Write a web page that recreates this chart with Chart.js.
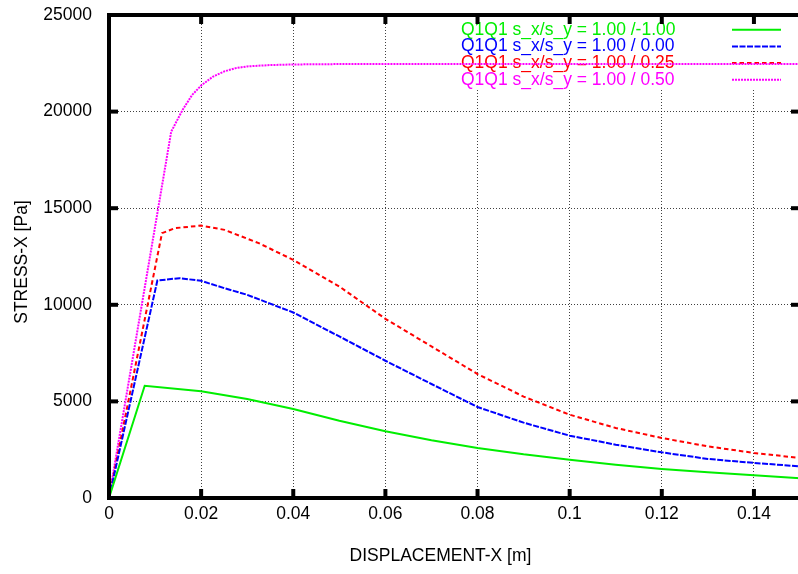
<!DOCTYPE html>
<html>
<head>
<meta charset="utf-8">
<script src="https://cdn.jsdelivr.net/npm/chart.js@4.4.1/dist/chart.umd.min.js"></script>
<style>
html, body { margin: 0; padding: 0; background: #fff; overflow: hidden; }
#wrap { position: relative; width: 804px; height: 574px; }
</style>
</head>
<body>
<div id="wrap"><canvas id="stress-chart"></canvas></div>
<script>
// values
var seriesLabels = [
    'Q1Q1 s_x/s_y = 1.00 /-1.00',
    'Q1Q1 s_x/s_y = 1.00 / 0.00',
    'Q1Q1 s_x/s_y = 1.00 / 0.25',
    'Q1Q1 s_x/s_y = 1.00 / 0.50'
];

var dispGreen = [0, 0.00775, 0.02, 0.03, 0.04, 0.05, 0.06, 0.07, 0.08, 0.09, 0.10, 0.11, 0.12, 0.13, 0.14, 0.15];
var stressGreen = [0, 5810, 5520, 5120, 4610, 4000, 3450, 2990, 2590, 2260, 1985, 1727, 1505, 1329, 1174, 1019];

var dispBlue = [0, 0.0105, 0.0153, 0.02, 0.025, 0.03, 0.04, 0.05, 0.06, 0.07, 0.08, 0.09, 0.10, 0.11, 0.12, 0.13, 0.14, 0.15];
var stressBlue = [0, 11257, 11380, 11240, 10863, 10517, 9602, 8361, 7104, 5900, 4710, 3900, 3226, 2761, 2363, 2022, 1815, 1639];

var dispRed = [0, 0.0115, 0.0143, 0.02, 0.0251, 0.0325, 0.04, 0.05, 0.06, 0.07, 0.08, 0.09, 0.10, 0.11, 0.12, 0.13, 0.14, 0.15];
var stressRed = [0, 13707, 13966, 14100, 13878, 13190, 12327, 10946, 9276, 7845, 6416, 5250, 4312, 3625, 3107, 2673, 2332, 2073];

var dispMagenta = [0, 0.0135, 0.016, 0.018, 0.02, 0.0225, 0.025, 0.0275, 0.03, 0.035, 0.04, 0.05, 0.08, 0.11, 0.15];
var stressMagenta = [0, 18960, 20100, 20850, 21350, 21800, 22080, 22250, 22340, 22410, 22440, 22460, 22460, 22460, 22460];

var xTicks = [0, 0.02, 0.04, 0.06, 0.08, 0.1, 0.12, 0.14];
var yTicks = [0, 5000, 10000, 15000, 20000, 25000];

var xTitle = 'DISPLACEMENT-X [m]';
var yTitle = 'STRESS-X [Pa]';

var seriesColors = ['#00ee00', '#0000ff', '#ff0000', '#ff00ff'];
var seriesDash = [[], [6, 1.5], [4.5, 3], [2, 1]];

var FONT = '17.5px "Liberation Sans", Arial, sans-serif';

function toPoints(xs, ys) {
    return xs.map(function (x, i) { return {x: x, y: ys[i]}; });
}

function line(ctx, x1, y1, x2, y2) {
    ctx.beginPath();
    ctx.moveTo(x1, y1);
    ctx.lineTo(x2, y2);
    ctx.stroke();
}

// gnuplot look: opaque key, thick frame, inward ticks, axis titles
var gnuplotFrame = {
    id: 'gnuplotFrame',
    beforeDatasetsDraw: function (chart) {
        var ctx = chart.ctx;
        ctx.save();
        ctx.fillStyle = '#fff';
        ctx.fillRect(452, 18, 350, 71);
        ctx.font = FONT;
        ctx.textBaseline = 'middle';
        ctx.textAlign = 'left';
        seriesLabels.forEach(function (lab, i) {
            var y = 29.7 + i * 16.7;
            ctx.fillStyle = seriesColors[i];
            ctx.fillText(lab, 461, y);
            ctx.strokeStyle = seriesColors[i];
            ctx.lineWidth = 2;
            ctx.setLineDash(seriesDash[i]);
            line(ctx, 732, y, 781, y);
        });
        ctx.restore();
    },
    afterDraw: function (chart) {
        var ctx = chart.ctx;
        var a = chart.chartArea;
        var xs = chart.scales.x, ys = chart.scales.y;
        ctx.save();
        ctx.strokeStyle = '#000';
        ctx.setLineDash([]);
        ctx.lineWidth = 4;
        ctx.strokeRect(a.left, a.top, a.right - a.left, a.bottom - a.top);

        xTicks.forEach(function (v) {
            if (v <= 0) return;
            var px = xs.getPixelForValue(v);
            line(ctx, px, a.bottom, px, a.bottom - 9);
            line(ctx, px, a.top, px, a.top + 9);
        });
        yTicks.forEach(function (v) {
            if (v <= 0 || v >= ys.max) return;
            var py = ys.getPixelForValue(v);
            line(ctx, a.left, py, a.left + 9, py);
            line(ctx, a.right, py, a.right - 9, py);
        });

        ctx.fillStyle = '#000';
        ctx.font = FONT;
        ctx.textAlign = 'center';
        ctx.textBaseline = 'middle';
        ctx.fillText(xTitle, (a.left + a.right) / 2 - 14, 556);
        ctx.translate(22, 262);
        ctx.rotate(-Math.PI / 2);
        ctx.fillText(yTitle, 0, 0);
        ctx.restore();
    }
};

var chart;
function initChart() {
    var canvas = document.getElementById('stress-chart');
    var all = [
        [dispGreen, stressGreen],
        [dispBlue, stressBlue],
        [dispRed, stressRed],
        [dispMagenta, stressMagenta]
    ];

    chart = new Chart(canvas, {
        type: 'line',
        data: {
            datasets: all.map(function (s, i) {
                return {
                    label: seriesLabels[i],
                    data: toPoints(s[0], s[1]),
                    borderColor: seriesColors[i],
                    borderWidth: 2,
                    borderDash: seriesDash[i],
                    pointRadius: 0,
                    tension: 0,
                    fill: false
                };
            })
        },
        options: {
            responsive: true,
            maintainAspectRatio: false,
            animation: false,
            layout: {padding: {top: 15, right: 4, left: 0, bottom: 0}},
            plugins: {
                legend: {display: false},
                tooltip: {enabled: false}
            },
            scales: {
                x: {
                    type: 'linear',
                    min: 0,
                    max: 0.15,
                    afterFit: function (s) {
                        s.height = 76;
                        s.paddingLeft = 0;
                        s.paddingRight = 0;
                    },
                    afterBuildTicks: function (s) {
                        s.ticks = xTicks.concat([0.15]).map(function (v) { return {value: v}; });
                    },
                    ticks: {
                        autoSkip: false,
                        maxRotation: 0,
                        padding: 6,
                        color: '#000',
                        font: {family: '"Liberation Sans", Arial, sans-serif', size: 17.5},
                        callback: function (v) { return v > 0.145 ? '' : String(+v.toFixed(2)); }
                    },
                    grid: {color: 'rgba(0,0,0,0.75)', lineWidth: 1, drawTicks: false},
                    border: {display: false, dash: [1, 2]}
                },
                y: {
                    min: 0,
                    max: 25000,
                    afterFit: function (s) {
                        s.width = 109;
                        s.paddingTop = 0;
                        s.paddingBottom = 0;
                    },
                    afterBuildTicks: function (s) {
                        s.ticks = yTicks.map(function (v) { return {value: v}; });
                    },
                    ticks: {
                        padding: 17,
                        color: '#000',
                        font: {family: '"Liberation Sans", Arial, sans-serif', size: 17.5},
                        callback: function (v) { return String(v); }
                    },
                    grid: {color: 'rgba(0,0,0,0.75)', lineWidth: 1, drawTicks: false},
                    border: {display: false, dash: [1, 2]}
                }
            }
        },
        plugins: [gnuplotFrame]
    });
}

document.addEventListener('DOMContentLoaded', function () {
    initChart();
});
</script>
</body>
</html>
